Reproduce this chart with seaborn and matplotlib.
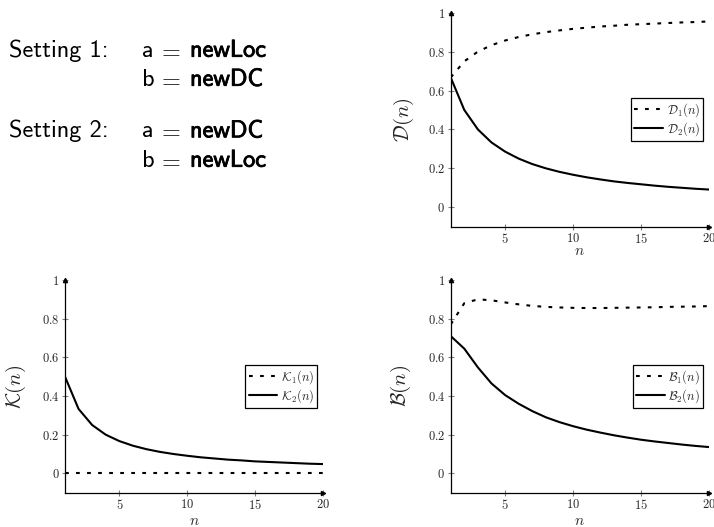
import pandas as pd
import seaborn as sns
import matplotlib
matplotlib.use("Agg")
import matplotlib.pyplot as plt
from matplotlib import patheffects
from matplotlib.ticker import FuncFormatter

# values, n = 1..20
n = list(range(1, 21))
d1 = [0.667, 0.75, 0.80, 0.833, 0.857, 0.875, 0.889, 0.90, 0.909, 0.917,
      0.923, 0.929, 0.933, 0.938, 0.941, 0.944, 0.947, 0.95, 0.952, 0.955]
d2 = [0.667, 0.50, 0.40, 0.333, 0.286, 0.25, 0.222, 0.20, 0.182, 0.167,
      0.154, 0.143, 0.133, 0.125, 0.118, 0.111, 0.105, 0.10, 0.095, 0.091]
k1 = [0.0] * 20
k2 = [0.50, 0.333, 0.25, 0.20, 0.167, 0.143, 0.125, 0.111, 0.10, 0.091,
      0.083, 0.077, 0.071, 0.067, 0.062, 0.059, 0.056, 0.053, 0.05, 0.048]
b1 = [0.77, 0.88, 0.90, 0.895, 0.884, 0.874, 0.866, 0.861, 0.858, 0.856,
      0.855, 0.855, 0.856, 0.857, 0.858, 0.859, 0.861, 0.862, 0.863, 0.865]
b2 = [0.71, 0.645, 0.548, 0.465, 0.405, 0.36, 0.322, 0.29, 0.265, 0.244,
      0.226, 0.211, 0.197, 0.185, 0.174, 0.165, 0.157, 0.149, 0.142, 0.136]

yticks = [0, 0.2, 0.4, 0.6, 0.8, 1]
xticks = [5, 10, 15, 20]

sns.set_style("ticks")
plt.rcParams["mathtext.fontset"] = "cm"
plt.rcParams["font.family"] = ["DejaVu Serif"]

W, H = 714, 527
fig = plt.figure(figsize=(W / 100, H / 100), dpi=100)


def px_axes(x0, y0, x1, y1):
    return fig.add_axes([x0 / W, 1 - y1 / H, (x1 - x0) / W, (y1 - y0) / H])


def panel(ax, s1, s2, lab1, lab2, ylab, ylab_x, xlab_y):
    df = pd.DataFrame({"n": n * 2, "val": s1 + s2,
                       "serie": [lab1] * len(n) + [lab2] * len(n)})
    sns.lineplot(data=df, x="n", y="val", hue="serie", style="serie",
                 palette=["black", "black"], dashes={lab1: (1.8, 3.5), lab2: ""},
                 linewidth=1.5, ax=ax)
    handles, labels = ax.get_legend_handles_labels()
    ax.legend(handles, labels, loc="center right", fontsize=9, frameon=True,
              fancybox=False, edgecolor="black", framealpha=1,
              handlelength=2.3, borderpad=0.25, labelspacing=0.1,
              handletextpad=0.3, borderaxespad=0.45)
    ax.get_legend().get_frame().set_linewidth(0.9)
    ax.set_xlim(1, 20)
    ax.set_ylim(-0.1, 1.0)
    ax.set_xticks(xticks)
    ax.set_yticks(yticks)
    ax.xaxis.set_major_formatter(FuncFormatter(lambda v, p: f"${v:g}$"))
    ax.yaxis.set_major_formatter(FuncFormatter(lambda v, p: f"${v:g}$"))
    ax.tick_params(direction="inout", length=5, width=0.8, color="gray",
                   labelsize=9, pad=1.5)
    sns.despine(ax=ax)
    for s in ("left", "bottom"):
        ax.spines[s].set_color("black")
        ax.spines[s].set_linewidth(0.9)
    ax.set_ylabel(ylab, fontsize=15)
    ax.yaxis.set_label_coords(ylab_x, 0.5)
    ax.set_xlabel("$n$", fontsize=11)
    ax.xaxis.set_label_coords(0.5, xlab_y)
    ax.plot([1], [0], marker=">", ms=3, color="black", transform=ax.transAxes, clip_on=False)
    ax.plot([0], [1], marker="^", ms=3, color="black", transform=ax.transAxes, clip_on=False)


ax_d = px_axes(450.7, 12.7, 709, 226.7)
panel(ax_d, d1, d2, r"$\mathcal{D}_1(n)$", r"$\mathcal{D}_2(n)$", r"$\mathcal{D}(n)$", -0.134, -0.082)

ax_k = px_axes(65, 280, 323, 492.7)
panel(ax_k, k1, k2, r"$\mathcal{K}_1(n)$", r"$\mathcal{K}_2(n)$", r"$\mathcal{K}(n)$", -0.142, -0.1)

ax_b = px_axes(450.7, 280, 709, 492.7)
panel(ax_b, b1, b2, r"$\mathcal{B}_1(n)$", r"$\mathcal{B}_2(n)$", r"$\mathcal{B}(n)$", -0.145, -0.1)

# settings text, top-left
bold = [patheffects.withStroke(linewidth=0.6, foreground="black")]


def ftxt(x, y, s, **kw):
    fig.text(x / W, 1 - y / H, s, va="baseline", ha="left", fontsize=17.5,
             family="cmss10", color="black", **kw)


rows = [("Setting 1:", "a", "newLoc", 56.7), (None, "b", "newDC", 85.7),
        ("Setting 2:", "a", "newDC", 137.3), (None, "b", "newLoc", 166.7)]
for head, var, val, yb in rows:
    if head:
        ftxt(9, yb, head)
    ftxt(141.7, yb, var)
    ftxt(157, yb, "$=$")
    ftxt(190, yb, val, path_effects=bold)

fig.savefig("out.png", dpi=100)
